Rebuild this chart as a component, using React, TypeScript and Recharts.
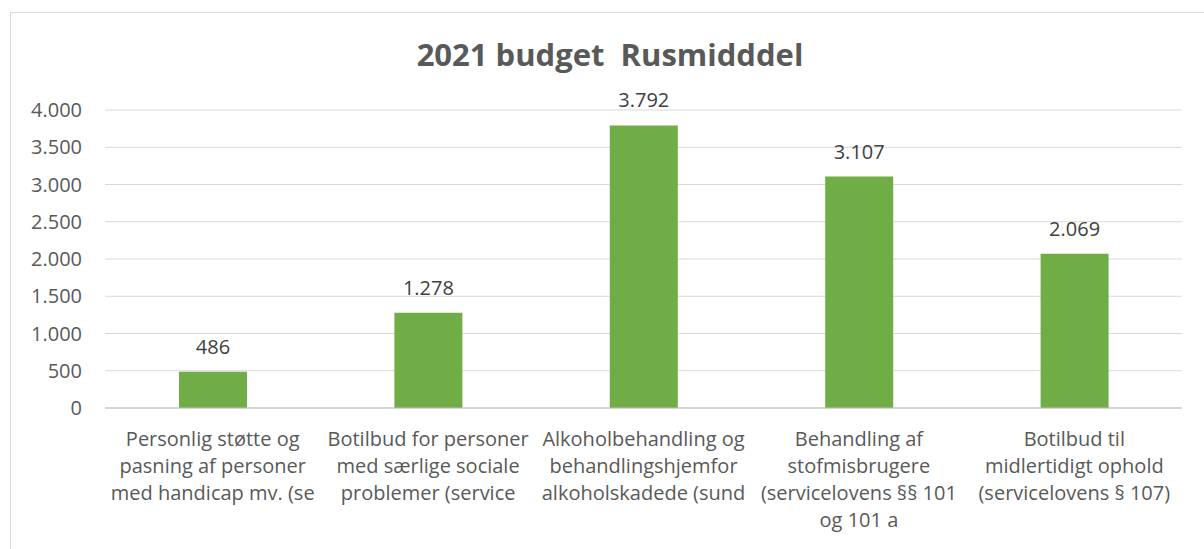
import React from "react";
import { BarChart, Bar, XAxis, YAxis, CartesianGrid, LabelList } from "recharts";

const categories = [
  "Personlig støtte og pasning af personer med handicap mv. (se",
  "Botilbud for personer med særlige sociale problemer (service",
  "Alkoholbehandling og behandlingshjemfor alkoholskadede (sund",
  "Behandling af stofmisbrugere (servicelovens §§ 101 og 101 a",
  "Botilbud til midlertidigt ophold (servicelovens § 107)",
];

// the label lines as Excel wraps (and cuts) them
const labelLines = [
  ["Personlig støtte og", "pasning af personer", "med handicap mv. (se"],
  ["Botilbud for personer", "med særlige sociale", "problemer (service"],
  ["Alkoholbehandling og", "behandlingshjemfor", "alkoholskadede (sund"],
  ["Behandling af", "stofmisbrugere", "(servicelovens §§ 101", "og 101 a"],
  ["Botilbud til", "midlertidigt ophold", "(servicelovens § 107)"],
];

const values = [486, 1278, 3792, 3107, 2069];

const yTicks = [0, 500, 1000, 1500, 2000, 2500, 3000, 3500, 4000];

const data = categories.map((name, i) => ({ name, idx: i, value: values[i] }));

const FONT = "'Open Sans', sans-serif";

const fmt = (v: number) => String(v).replace(/\B(?=(\d{3})+(?!\d))/g, ".");

const CategoryTick = (props: any) => {
  const { x, y, payload } = props;
  const lines = labelLines[payload.index] || [payload.value];
  return (
    <g transform={`translate(${x},${y})`}>
      {lines.map((l: string, i: number) => (
        <text
          key={i}
          x={0}
          y={30 + i * 27}
          textAnchor="middle"
          fill="#595959"
          fontSize={20}
          fontFamily={FONT}
        >
          {l}
        </text>
      ))}
    </g>
  );
};

export default function App() {
  return (
    <div style={{ position: "absolute", left: 0, top: 0, width: 1204, height: 549, background: "#fff", overflow: "hidden" }}>
      <div
        style={{
          position: "absolute",
          left: 10,
          top: 12,
          width: 1220,
          height: 560,
          border: "1px solid #D9D9D9",
        }}
      />
      <div
        style={{
          position: "absolute",
          left: 0,
          top: 33,
          width: 1220,
          textAlign: "center",
          fontFamily: FONT,
          fontWeight: 700,
          fontSize: 31,
          color: "#595959",
          whiteSpace: "pre",
        }}
      >
        {"2021 budget  Rusmidddel"}
      </div>
      <div style={{ position: "absolute", left: 0, top: 0 }}>
        <BarChart
          width={1204}
          height={549}
          data={data}
          margin={{ top: 110, right: 22, left: 10, bottom: 0 }}
        >
          <CartesianGrid vertical={false} stroke="#D9D9D9" />
          <XAxis
            dataKey="name"
            interval={0}
            height={141}
            tickLine={false}
            axisLine={{ stroke: "#BFBFBF" }}
            tick={<CategoryTick />}
          />
          <YAxis
            width={95}
            domain={[0, 4000]}
            ticks={yTicks}
            interval={0}
            axisLine={false}
            tickLine={false}
            tickSize={0}
            tickMargin={23}
            tickFormatter={fmt}
            tick={{ fill: "#595959", fontSize: 20, fontFamily: FONT }}
          />
          <Bar dataKey="value" fill="#70AD47" barSize={68} isAnimationActive={false}>
            <LabelList
              dataKey="value"
              position="top"
              offset={18}
              formatter={(v: any) => fmt(Number(v))}
              fill="#404040"
              fontSize={20}
              fontFamily={FONT}
            />
          </Bar>
        </BarChart>
      </div>
    </div>
  );
}
